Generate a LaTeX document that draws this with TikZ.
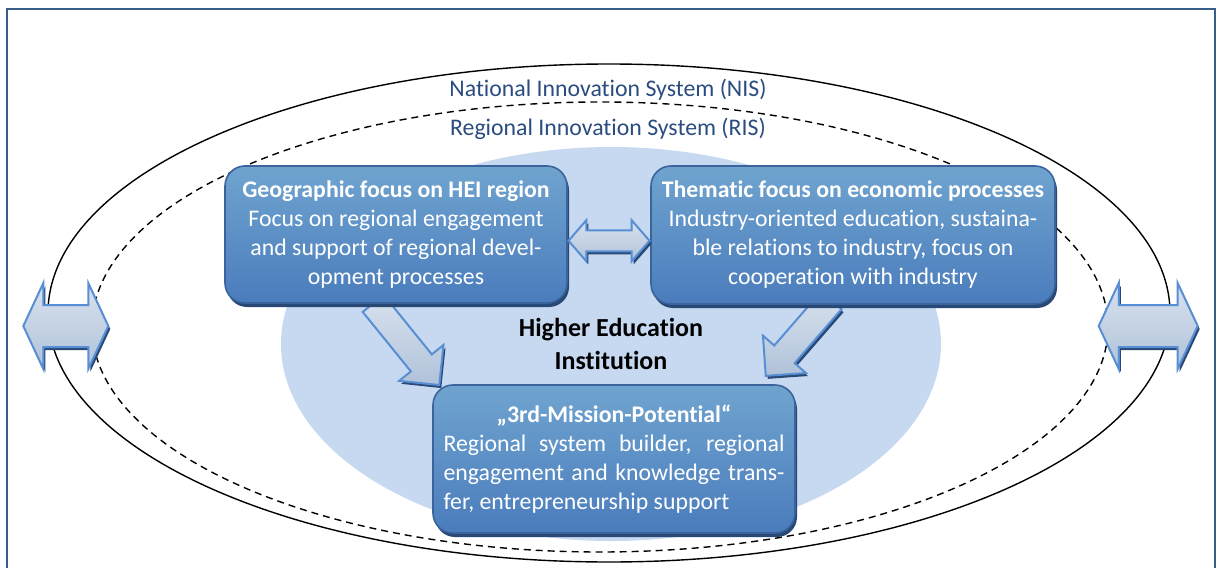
\documentclass[tikz,border=0pt]{standalone}
\usepackage{fontspec}
\setmainfont[Ligatures=NoCommon]{Carlito}
\usetikzlibrary{shapes.geometric,shapes.arrows,shadows,calc}

\definecolor{frameblue}{RGB}{56,93,138}
\definecolor{labelblue}{RGB}{42,76,127}
\definecolor{heifill}{RGB}{198,217,240}
\definecolor{boxtop}{RGB}{112,164,207}
\definecolor{boxbottom}{RGB}{74,124,188}
\definecolor{boxline}{RGB}{58,100,155}
\definecolor{boxshadow}{RGB}{40,72,118}
\definecolor{arrowtop}{RGB}{216,226,238}
\definecolor{arrowbottom}{RGB}{176,194,217}
\definecolor{arrowline}{RGB}{88,142,212}

\tikzset{
  every node/.style={font=\fontsize{11.9pt}{14.5pt}\selectfont},
  system/.style={ellipse, draw=black, line width=0.7pt, inner sep=0pt},
  syslabel/.style={text=labelblue},
  focusbox/.style={rectangle, rounded corners=10pt, draw=boxline, line width=0.8pt,
    top color=boxtop, bottom color=boxbottom, text=white, align=center,
    drop shadow={shadow xshift=1pt, shadow yshift=-2pt, fill=boxshadow, opacity=1}},
  fatarrow/.style={single arrow, draw=arrowline, line width=1pt, inner xsep=0pt, inner ysep=6.25pt,
    top color=arrowtop, bottom color=arrowbottom, single arrow head extend=7.5pt,
    drop shadow={shadow xshift=1pt, shadow yshift=-1.5pt, fill=boxshadow, opacity=1}},
  linkarrow/.style={double arrow, draw=arrowline, line width=1pt, inner xsep=0pt,
    top color=arrowtop, bottom color=arrowbottom,
    drop shadow={shadow xshift=1pt, shadow yshift=-1.5pt, fill=boxshadow, opacity=1}},
  bigarrow/.style={linkarrow, inner ysep=10pt, double arrow head extend=11pt,
    double arrow tip angle=130},
}

\begin{document}
\begin{tikzpicture}[x=0.5pt,y=-0.5pt]
  \useasboundingbox (0,0) rectangle (1217,568);
  \clip (0,0) rectangle (1217,568);
  \draw[frameblue, line width=1pt] (7,9) rectangle (1215,620);

  % the institution and the two innovation systems
  \node[ellipse, fill=heifill, minimum width=330pt, minimum height=197pt, align=center,
    font=\fontsize{13pt}{16.5pt}\selectfont\bfseries] (hei) at (611,344) {Higher Education\\Institution};
  \node[system, minimum width=561pt, minimum height=249pt] (nis) at (609,313) {};
  \node[system, dash pattern=on 3.5pt off 2.5pt, minimum width=508pt, minimum height=225pt] (ris) at (600,327) {};
  \node[syslabel] (nislabel) at (608,90) {National Innovation System (NIS)};
  \node[syslabel] (rislabel) at (608,129) {Regional Innovation System (RIS)};

  % arrows into the 3rd mission box
  \node[fatarrow, minimum height=52.5pt, rotate=-51] (geoarrow) at (402,339) {};
  \node[fatarrow, minimum height=50pt, rotate=-131] (themarrow) at (803,333) {};

  \node[focusbox, minimum width=171pt, minimum height=68.5pt] (geo) at (396,234.5)
    {\textbf{Geographic focus on HEI region}\\Focus on regional engagement\\and support of regional devel-\\opment processes};
  \node[focusbox, minimum width=202pt, minimum height=69pt] (them) at (853,235)
    {\textbf{Thematic focus on economic processes}\\Industry-oriented education, sustaina-\\ble relations to industry, focus on\\cooperation with industry};
  \node[focusbox, minimum width=181pt, minimum height=74pt, align=left] (mission) at (614,459)
    {\makebox[170.5pt]{\textbf{„3rd-Mission-Potential“}}\\
     \makebox[170.5pt][s]{Regional system builder, regional}\\
     \makebox[170.5pt][s]{engagement and knowledge trans-}\\
     fer, entrepreneurship support};

  % exchange arrows
  \node[linkarrow, minimum height=40.5pt, inner ysep=4.75pt, double arrow head extend=5pt,
    double arrow tip angle=98] (geothem) at ($(geo.east)!0.5!(them.west)+(0,6)$) {};
  \node[bigarrow, minimum height=42.5pt] (nisleft) at ($(nis.west)+(18.5,13)$) {};
  \node[bigarrow, minimum height=49.5pt] (nisright) at ($(nis.east)+(-22.5,13)$) {};
\end{tikzpicture}
\end{document}
